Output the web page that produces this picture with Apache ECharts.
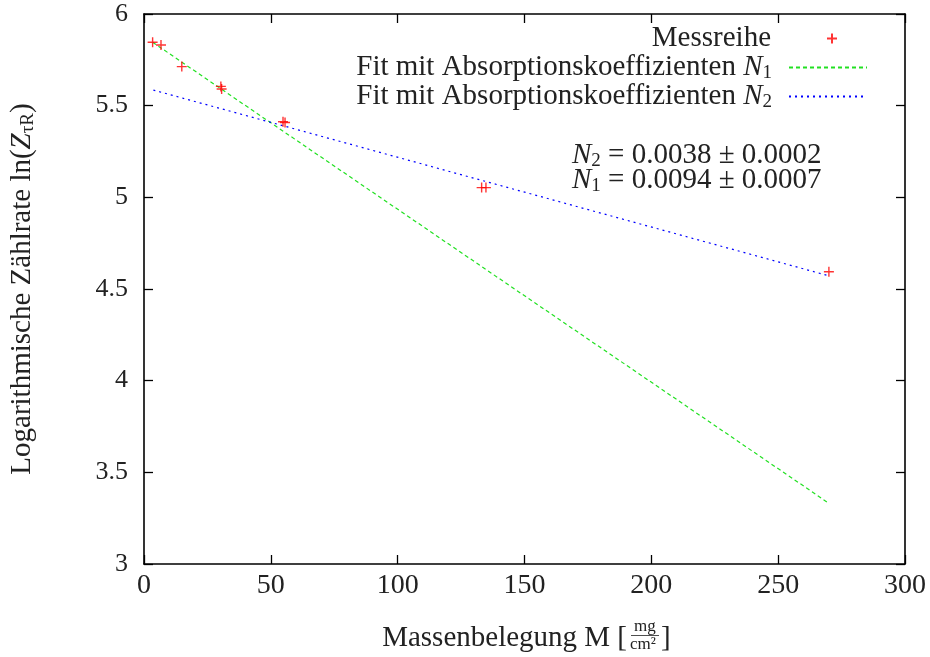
<!DOCTYPE html>
<html>
<head>
<meta charset="utf-8">
<script src="https://cdn.jsdelivr.net/npm/echarts@6/dist/echarts.min.js"></script>
<style>html,body{margin:0;padding:0;background:#fff;}#c{width:930px;height:657px;}</style>
</head>
<body>
<div id="c"></div>
<script>
// Measured data (Messreihe)
const massX = [3.4, 6.7, 14.9, 30.3, 30.6, 54.8, 55.6, 133.1, 134.8, 270.0];
const lnZ   = [5.846, 5.831, 5.713, 5.605, 5.591, 5.412, 5.408, 5.053, 5.053, 4.594];
// Fit lines (end points)
const fitN1X = [3.4, 269.7];
const fitN1Y = [5.846, 3.334];
const fitN2X = [3.7, 269.7];
const fitN2Y = [5.585, 4.573];
// Axis ticks
const xTicks = [0, 50, 100, 150, 200, 250, 300];
const yTicks = [3, 3.5, 4, 4.5, 5, 5.5, 6];
const legendNames = ['Messreihe', 'Fit mit Absorptionskoeffizienten N1', 'Fit mit Absorptionskoeffizienten N2'];

const FONT = 'Liberation Serif';
const FS = 29;
const TFS = 28;
const YTFS = 26;
const SFS = 19;
const TXT = '#222';
const zip = (a, b) => a.map((v, i) => [v, b[i]]);

const chart = echarts.init(document.getElementById('c'));
const plusPath = 'path://M0,5L10,5M5,0L5,10';

const axisCommon = {
  axisLine: { show: true, onZero: false, lineStyle: { color: '#000', width: 1.6 } },
  axisTick: { show: true, inside: true, length: 9, lineStyle: { color: '#000', width: 1.3 } },
  splitLine: { show: false }
};

const legendText = (name) => {
  if (name === legendNames[0]) return 'Messreihe';
  const sub = name.slice(-1);
  return 'Fit mit Absorptionskoeffizienten {i|N}{s|' + sub + '}';
};
const richStyle = {
  i: { fontFamily: FONT, fontStyle: 'italic', fontSize: FS, color: TXT },
  s: { fontFamily: FONT, fontSize: SFS, color: TXT, verticalAlign: 'bottom', padding: [12, 0, 0, 0] }
};

const mkLegend = (name, top, right, iw, ih, pad, hideSym) => {
  const l = {
    data: [name], top: top, right: right, orient: 'vertical', align: 'right',
    itemWidth: iw, itemHeight: ih, selectedMode: false, padding: 0,
    formatter: legendText,
    textStyle: { fontFamily: FONT, fontSize: FS, color: TXT, padding: [0, pad, 0, 0], rich: richStyle }
  };
  if (hideSym) l.itemStyle = { opacity: 0 };
  return l;
};

chart.setOption({
  animation: false,
  backgroundColor: '#fff',
  grid: { left: 144, right: 25, top: 14, bottom: 93, containLabel: false, outerBoundsMode: 'none' },
  xAxis: [
    Object.assign({ type: 'value', min: 0, max: 300, interval: 50, position: 'bottom',
      axisLabel: { fontFamily: FONT, fontSize: TFS, color: TXT, margin: 8 } }, axisCommon),
    Object.assign({ type: 'value', min: 0, max: 300, interval: 50, position: 'top',
      axisLabel: { show: false } }, axisCommon)
  ],
  yAxis: [
    Object.assign({ type: 'value', min: 3, max: 6, interval: 0.5, position: 'left',
      name: 'Logarithmische Zählrate ln({i|Z}{s|τR})', nameLocation: 'middle', nameGap: 106, nameRotate: 90,
      nameTextStyle: { fontFamily: FONT, fontSize: FS, color: TXT, rich: richStyle },
      axisLabel: { fontFamily: FONT, fontSize: YTFS, color: TXT, margin: 16 } }, axisCommon),
    Object.assign({ type: 'value', min: 3, max: 6, interval: 0.5, position: 'right',
      axisLabel: { show: false } }, axisCommon)
  ],
  legend: [
    mkLegend(legendNames[0], 24, 92, 10, 10, 51, false),
    mkLegend(legendNames[1], 53, 62, 78, 10, 12, true),
    mkLegend(legendNames[2], 82, 62, 78, 10, 12, true)
  ],
  series: [
    { name: legendNames[1], type: 'line', data: zip(fitN1X, fitN1Y), symbol: 'none',
      lineStyle: { color: '#22e022', width: 1.2, type: [4, 3] }, itemStyle: { color: '#22e022' }, z: 2 },
    { name: legendNames[2], type: 'line', data: zip(fitN2X, fitN2Y), symbol: 'none',
      lineStyle: { color: '#0000ff', width: 1.2, type: [2, 4] }, itemStyle: { color: '#0000ff' }, z: 2 },
    { name: legendNames[0], type: 'scatter', data: zip(massX, lnZ), symbol: plusPath, symbolSize: 10,
      itemStyle: { color: 'rgba(0,0,0,0)', borderColor: '#ff0000', borderWidth: 1.4 }, z: 3 }
  ],
  graphic: [
    { type: 'text', left: 572, top: 141, style: {
      text: '{i|N}{s|2} = 0.0038 ± 0.0002', fontFamily: FONT, fontSize: FS, fill: TXT,
      rich: richStyle } },
    { type: 'text', left: 572, top: 166, style: {
      text: '{i|N}{s|1} = 0.0094 ± 0.0007', fontFamily: FONT, fontSize: FS, fill: TXT,
      rich: richStyle } },
    { type: 'text', right: 930 - 627, top: 624, style: {
      text: 'Massenbelegung M [', fontFamily: FONT, fontSize: FS, fill: TXT } },
    { type: 'text', left: 634, top: 618, style: { text: 'mg', fontFamily: FONT, fontSize: 17, fill: TXT } },
    { type: 'rect', shape: { x: 631, y: 635, width: 28, height: 0.8 }, style: { fill: TXT } },
    { type: 'text', left: 630, top: 636, style: { text: 'cm²', fontFamily: FONT, fontSize: 17, fill: TXT } },
    { type: 'text', left: 661, top: 624, style: { text: ']', fontFamily: FONT, fontSize: FS, fill: TXT } }
  ]
});
</script>
</body>
</html>
